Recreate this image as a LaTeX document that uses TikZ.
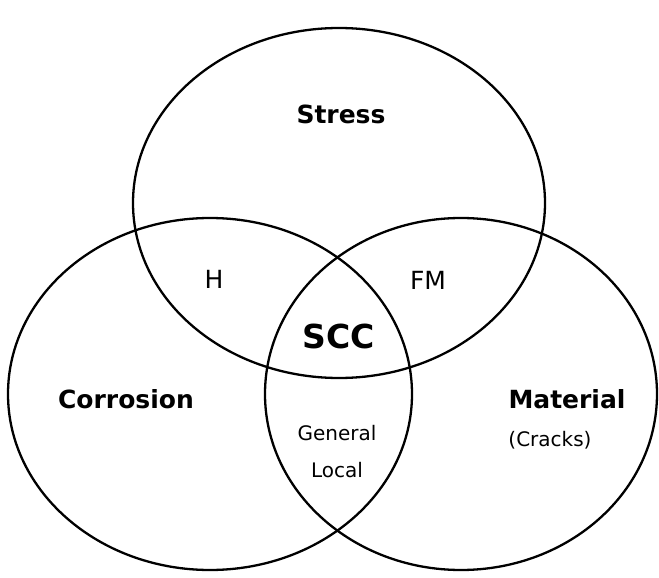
\documentclass[tikz,border=0pt]{standalone}
\usepackage{fontspec}
\setmainfont{DejaVu Sans}
\usetikzlibrary{positioning}
\tikzset{
  vennset/.style = {draw=black, line width=2.3pt},
  setlabel/.style = {anchor=base, font=\fontsize{25}{30}\selectfont\bfseries},
  sublabel/.style = {anchor=base, font=\fontsize{25}{30}\selectfont},
  smalllabel/.style = {anchor=base, font=\fontsize{20}{24}\selectfont}
}
\begin{document}
\begin{tikzpicture}[x=1pt, y=-1pt]
\useasboundingbox (0,0) rectangle (659,578);
\draw[vennset] (339,203) ellipse [x radius=206, y radius=175];
\draw[vennset] (210,394) ellipse [x radius=202, y radius=176];
\draw[vennset] (461,394) ellipse [x radius=196, y radius=176];

\node[setlabel] (stress) at (341,123) {Stress};
\node[setlabel] (corr)   at (126,408) {Corrosion};
\node[setlabel] (mat)    at (567,408) {Material};
\node[smalllabel] (cracks) at (550,446) {(Cracks)};
\node[setlabel, font=\fontsize{33}{38}\selectfont\bfseries] (scc) at (339,348) {SCC};
\node[sublabel] (h)  at (214,288) {H};
\node[sublabel] (fm) at (428,289) {FM};
\node[smalllabel] (gen) at (337,440) {General};
\node[smalllabel] (loc) at (337,477) {Local};
\end{tikzpicture}
\end{document}
